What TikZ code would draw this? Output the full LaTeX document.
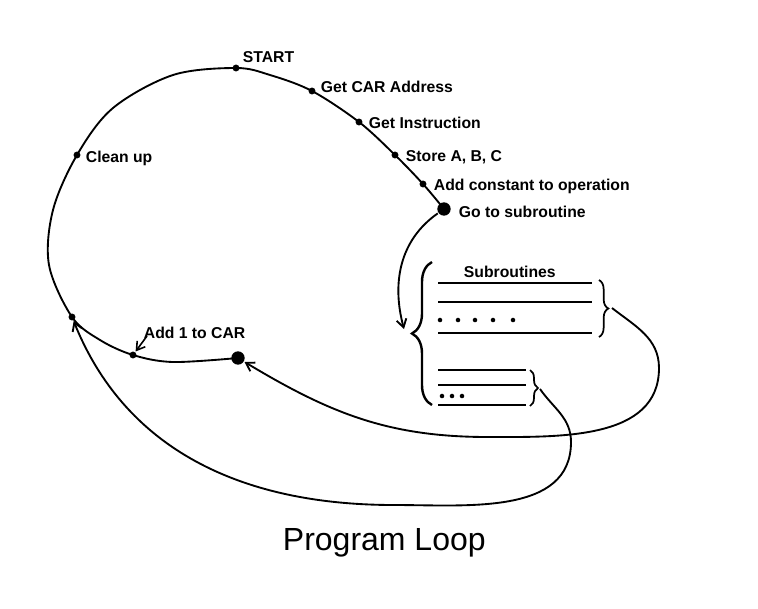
\documentclass[tikz,border=0pt]{standalone}
\usepackage{fontspec}
\setmainfont{Liberation Sans}
\usetikzlibrary{arrows.meta,decorations.pathreplacing}
\begin{document}
\begin{tikzpicture}[x=0.75pt,y=-0.75pt,
  line width=1.4pt,
  sdot/.style={circle,fill,draw=none,inner sep=0pt,minimum size=5.2pt},
  bdot/.style={circle,fill,draw=none,inner sep=0pt,minimum size=10pt},
  lbl/.style={anchor=base west,inner sep=0pt,font=\fontsize{11.8}{14}\selectfont\bfseries},
  arr/.style={-{Straight Barb[length=6pt,width=7.5pt]}},
  bracestyle/.style={decorate,decoration={brace,amplitude=#1}},
  subline/.style={line width=1pt}
]
\useasboundingbox (0,0) rectangle (758,608);

% dots on the loop
\node[sdot] (start) at (236,68) {};
\node[sdot] (car) at (312,91) {};
\node[sdot] (instr) at (359,122) {};
\node[sdot] (store) at (395,155) {};
\node[sdot] (addc) at (423,184) {};
\node[bdot] (gosub) at (444,209) {};
\node[sdot] (clean) at (77,155) {};
\node[sdot] (ret) at (72,317) {};
\node[sdot] (add1) at (133,355) {};
\node[bdot] (back) at (238,358) {};

% labels
\node[lbl] (tstart) at (242,62) {START};
\node[lbl] (tcar) at (320,92) {Get CAR Address};
\node[lbl] (tinstr) at (368,128) {Get Instruction};
\node[lbl] (tstore) at (405,161) {Store A, B, C};
\node[lbl] (taddc) at (433,190) {Add constant to operation};
\node[lbl] (tgosub) at (458,217) {Go to subroutine};
\node[lbl] (tclean) at (85,162) {Clean up};
\node[lbl] (tadd1) at (143,338) {Add 1 to CAR};
\node[lbl] (tsub) at (463,277) {Subroutines};
\node[anchor=base west,inner sep=0pt,font=\fontsize{24}{28}\selectfont] (title) at (282,550) {Program Loop};

% main loop
\draw plot[smooth,tension=0.55] coordinates {
  (gosub.center) (addc.center) (store.center) (instr.center) (car.center)
  (270,75) (start.center) (173,75) (113,108) (clean.center)
  (53,210) (49,265) (ret.center) (100,340) (add1.center)
  (173,362) (back.center)};

% arrow to subroutines
\coordinate (subin) at (404,329);
\draw[arr] (gosub) to[out=215,in=105] (subin);

% add 1 arrow
\coordinate (a1tail) at (147,336);
\draw[arr,line width=1.2pt] (a1tail) -- (add1);

% subroutine listing
\draw[subline] (438,283) -- (592,283);
\draw[subline] (438,302) -- (592,302);
\draw[subline] (438,333) -- (592,333);
\foreach \xx in {440,458,475,493,513} \fill (\xx,320) circle[radius=1.7pt];
\draw[subline] (438,370) -- (526,370);
\draw[subline] (438,385) -- (526,385);
\draw[subline] (438,405) -- (526,405);
\foreach \xx in {442,452,462} \fill (\xx,396) circle[radius=1.7pt];

% braces
\draw[bracestyle=15pt,line width=1.8pt] (432,405) -- (432,262);
\draw[bracestyle=7pt,line width=1.3pt] (599,280) -- (599,337);
\draw[bracestyle=6pt,line width=1.3pt] (530,370) -- (530,406);

% return curves
\coordinate (b1) at (612,308);
\coordinate (r1) at (659,368);
\coordinate (bot1) at (488,437);
\draw[arr] (b1) to[out=-38,in=90] (r1) to[out=-90,in=0] (bot1) to[out=180,in=-31] (back);

\coordinate (b2) at (540,389);
\coordinate (r2) at (571,442);
\coordinate (bot2) at (394,505);
\draw[arr] (b2) to[out=-55,in=90] (r2) to[out=-90,in=0] (bot2) to[out=180,in=-68] (ret);
\end{tikzpicture}
\end{document}
